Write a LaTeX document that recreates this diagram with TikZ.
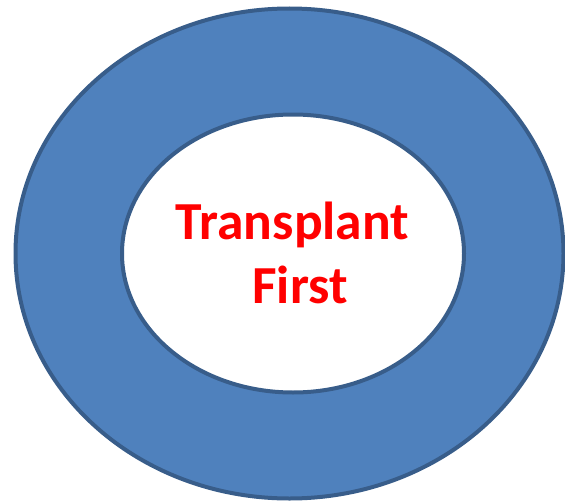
\documentclass[tikz,border=0pt]{standalone}
\usepackage{fontspec}
\setmainfont{Carlito}
\definecolor{ringfill}{HTML}{4F81BD}
\definecolor{ringline}{HTML}{385D8A}
\definecolor{txtred}{HTML}{FF0000}
\begin{document}
\begin{tikzpicture}[x=1pt,y=-1pt,
  ring/.style={draw=ringline,line width=4pt},
  label/.style={text=txtred,font=\fontsize{53.5}{64}\selectfont\bfseries,inner sep=0pt,anchor=base}]
\useasboundingbox (0,0) rectangle (565,503);
\path[ring,fill=ringfill] (289.5,253.5) ellipse [x radius=274,y radius=245];
\path[ring,fill=white] (293,253.5) ellipse [x radius=171,y radius=139];
\node[label] (t1) at (292.5,239) {Transplant};
\node[label] (t2) at (300,303) {First};
\end{tikzpicture}
\end{document}
